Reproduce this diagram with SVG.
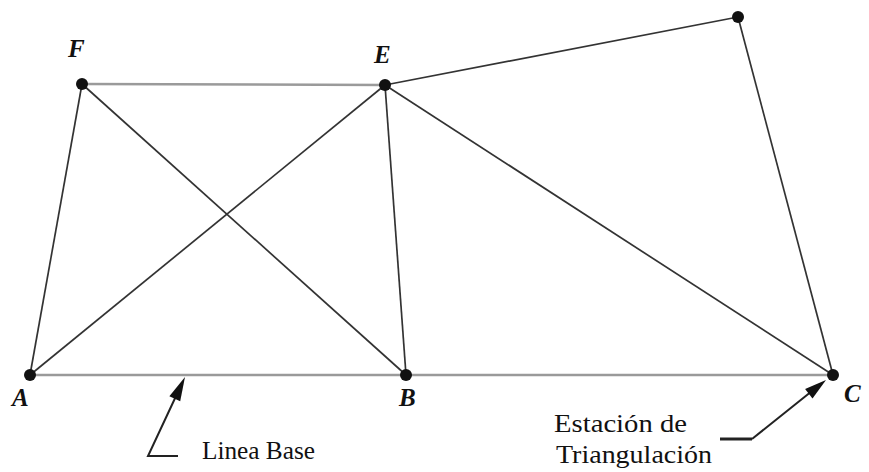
<svg xmlns="http://www.w3.org/2000/svg" width="869" height="472" viewBox="0 0 869 472">
<style>
.base{stroke:#9a9a9a;stroke-width:2.5;fill:none}
.edge{stroke:#333;stroke-width:1.7;fill:none}
.dot{fill:#111}
.lbl{font-family:"Liberation Serif",serif;font-style:italic;font-weight:bold;font-size:25px;fill:#111}
.txt{font-family:"Liberation Serif",serif;font-size:26px;fill:#111}
.ptr{stroke:#222;stroke-width:2;fill:none}
.head{fill:#111}
</style>
<rect width="869" height="472" fill="#fff"/>
<g id="connectors">
<line class="base" x1="82" y1="84" x2="385" y2="85"/>
<line class="base" x1="30" y1="375" x2="833" y2="375"/>
<line class="edge" x1="30" y1="375" x2="82" y2="84"/>
<line class="edge" x1="82" y1="84" x2="406" y2="375"/>
<line class="edge" x1="30" y1="375" x2="385" y2="85"/>
<line class="edge" x1="385" y1="85" x2="406" y2="375"/>
<line class="edge" x1="385" y1="85" x2="833" y2="375"/>
<line class="edge" x1="385" y1="85" x2="738" y2="17"/>
<line class="edge" x1="738" y1="17" x2="833" y2="375"/>
</g>
<g id="node-A"><circle class="dot" cx="30" cy="375" r="6"/><text class="lbl" x="12" y="406">A</text></g>
<g id="node-B"><circle class="dot" cx="406" cy="375" r="6"/><text class="lbl" x="399" y="406">B</text></g>
<g id="node-C"><circle class="dot" cx="833" cy="375" r="6"/><text class="lbl" x="844" y="402">C</text></g>
<g id="node-E"><circle class="dot" cx="385" cy="85" r="6"/><text class="lbl" x="374" y="63">E</text></g>
<g id="node-F"><circle class="dot" cx="82" cy="84" r="6"/><text class="lbl" x="68" y="57">F</text></g>
<g id="node-G"><circle class="dot" cx="738" cy="17" r="6"/></g>
<g id="label-linea-base">
<polyline class="ptr" points="178,456 148,456 177,394"/>
<polygon class="head" points="185,377 180.2,401.3 169.4,396.2"/>
<text class="txt" x="202" y="459" textLength="113" lengthAdjust="spacingAndGlyphs">Linea Base</text>
</g>
<g id="label-estacion">
<line x1="720" y1="439" x2="752" y2="439" stroke="#222" stroke-width="3"/>
<line class="ptr" x1="752" y1="439" x2="812" y2="391"/>
<polygon class="head" points="826,380 812.5,398.4 805.1,389"/>
<text class="txt" x="554" y="432" textLength="133" lengthAdjust="spacingAndGlyphs">Estación de</text>
<text class="txt" x="556" y="463" textLength="156" lengthAdjust="spacingAndGlyphs">Triangulación</text>
</g>
</svg>
